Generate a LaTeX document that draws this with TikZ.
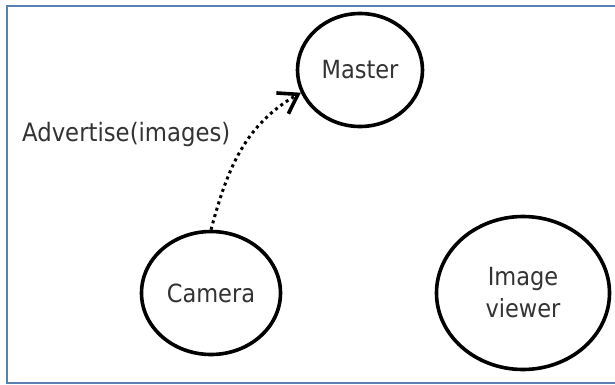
\documentclass[tikz,border=0pt]{standalone}
\usepackage{fontspec}
\setmainfont{DejaVu Sans Condensed}
\usetikzlibrary{shapes.geometric,arrows.meta}
\definecolor{framecol}{HTML}{5B80B4}
\definecolor{textcol}{HTML}{333333}
\begin{document}
\begin{tikzpicture}[x=1pt,y=1pt,
  actor/.style={ellipse,draw=black,line width=3.6pt,inner sep=0pt,
    text=textcol,align=center,font=\fontsize{25}{32}\selectfont},
  msgline/.style={line width=3pt,dash pattern=on 3pt off 3.6pt,
    -{Straight Barb[length=18pt,width=24pt,line width=3.6pt]}},
  msglabel/.style={text=textcol,font=\fontsize{25.3}{30}\selectfont,inner sep=0pt}]
  \useasboundingbox (0,0) rectangle (615,384);
  \fill[white] (0,0) rectangle (615,384);
  \begin{scope}
    \clip (0,0) rectangle (615,384);
    \draw[framecol,line width=2pt] (7,1.5) rectangle (625,378);
  \end{scope}

  % participants
  \node[actor,minimum width=125pt,minimum height=113pt] (master) at (360,314) {Master};
  \node[actor,minimum width=139pt,minimum height=123pt] (camera) at (211,91) {Camera};
  \node[actor,minimum width=173pt,minimum height=153pt] (viewer) at (523,91) {Image\\viewer};

  % advertisement message from the camera to the master
  \draw[msgline] (camera.north) to[out=75,in=210] (master.201);
  \node[msglabel,anchor=base west] (adv) at (22,243) {Advertise(images)};
\end{tikzpicture}
\end{document}
